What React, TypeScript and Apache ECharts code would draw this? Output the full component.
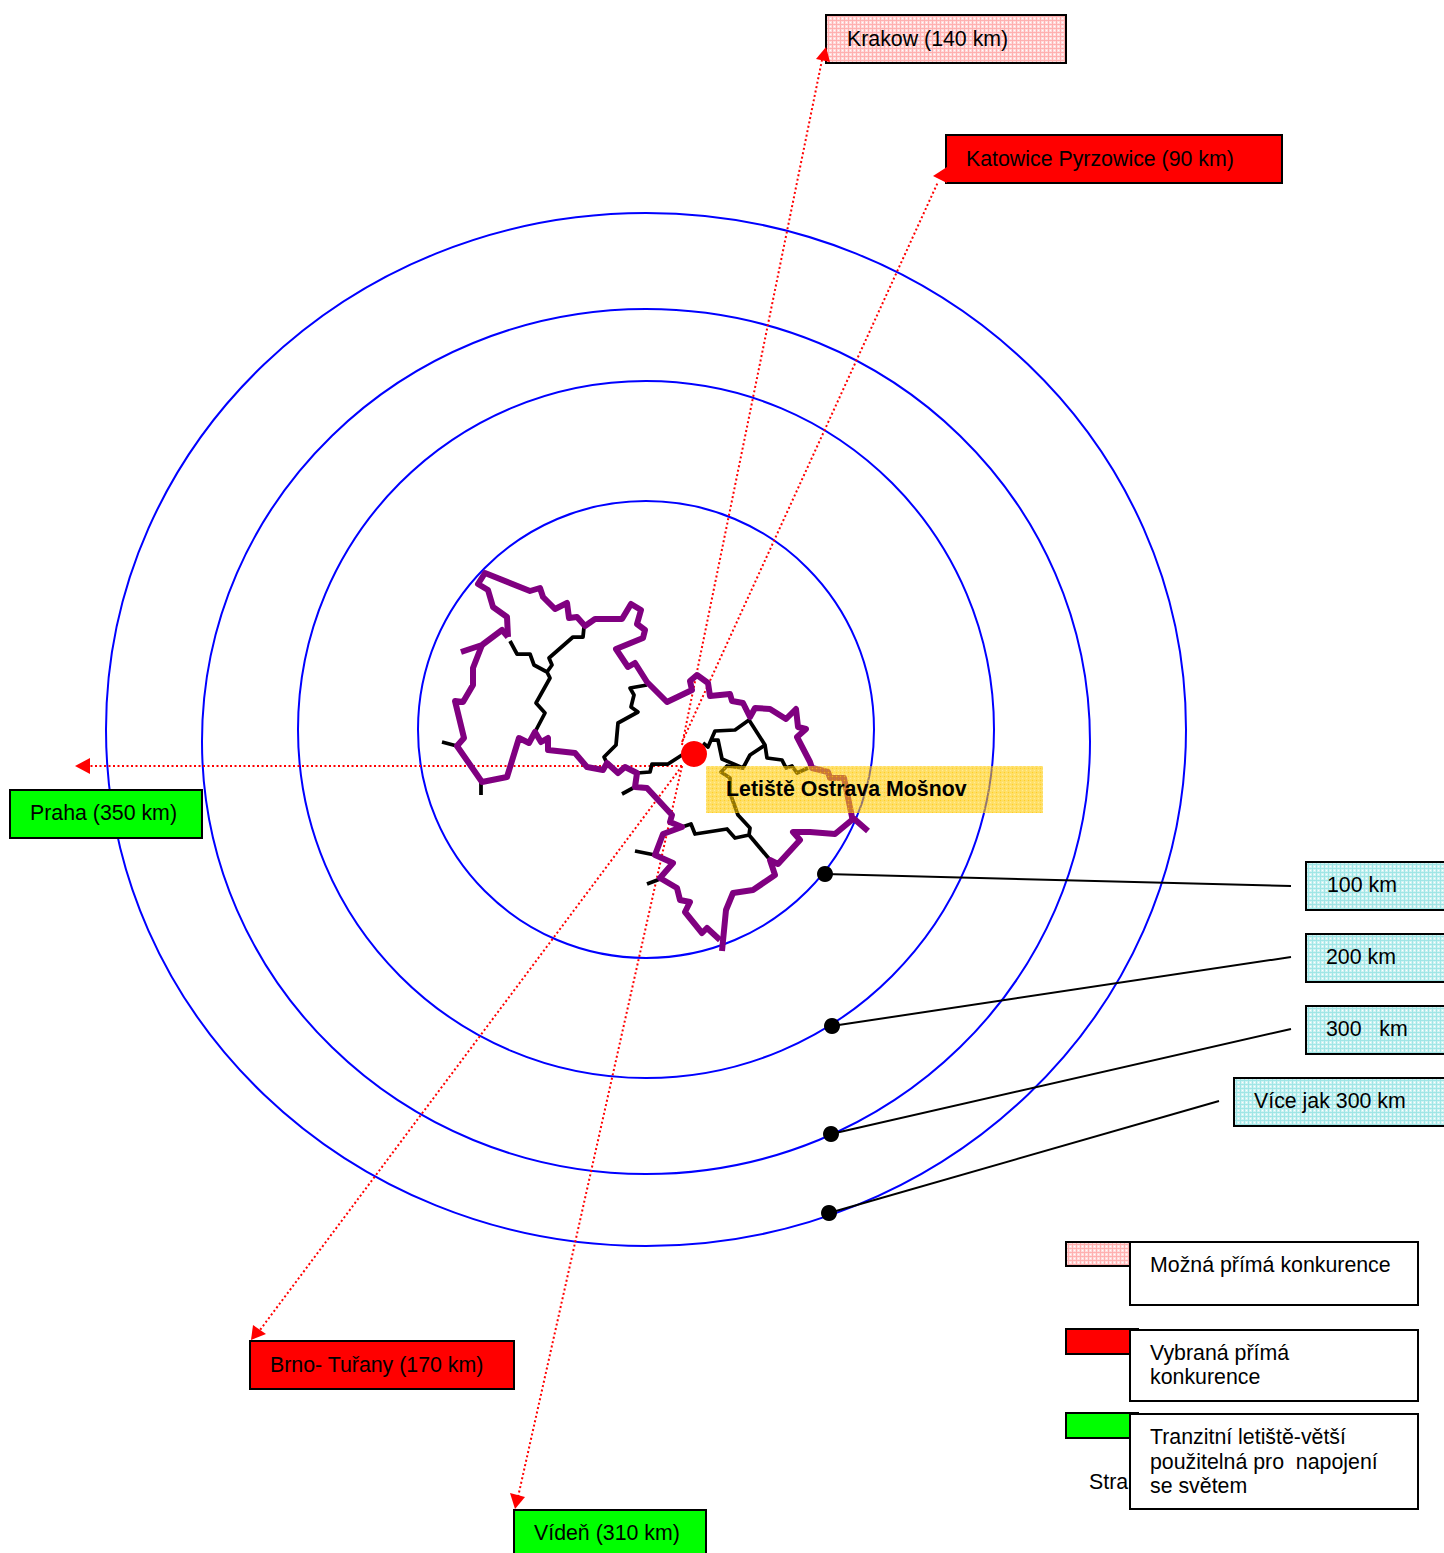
import React, { useEffect, useRef } from "react";
import * as echarts from "echarts";

const WIDTH = 1444;
const HEIGHT = 1553;

// Distance rings: [centre x, centre y, radius x, radius y]
const rings = [
  [646, 729.5, 228, 228.5],
  [646, 729.5, 348, 348.5],
  [646, 741.5, 444, 432.5],
  [646, 729.5, 540, 516.5],
];

// Dotted routes from the airport
const routeKrakow = [[682, 745], [822, 60]];
const routeKatowice = [[682, 742], [938, 182]];
const routePraha = [[682, 766], [88, 766]];
const routeBrno = [[682, 766], [260, 1330]];
const routeViden = [[682, 766], [518, 1497]];

const arrowheads = [
  [[826, 47], [816, 59], [830, 62]],
  [[933, 176], [947, 167], [947, 183]],
  [[75, 766], [90, 758], [90, 774]],
  [[251, 1340], [253, 1325], [266, 1334]],
  [[515, 1509], [510, 1493], [525, 1497]],
];

// Regional borders (black)
const inner1 = [[510, 641], [517, 654], [530, 654], [534, 665], [547, 672], [550, 678], [536, 703], [545, 713], [535, 732]];
const inner2 = [[584, 627], [583, 637], [573, 637], [549, 658], [552, 665], [547, 672]];
const inner3 = [[647, 685], [630, 688], [634, 695], [631, 707], [638, 712], [618, 723], [616, 745], [604, 757], [607, 763]];
const inner4 = [[637, 773], [650, 772], [652, 764], [668, 764], [682, 755]];
const inner5 = [[703, 743], [708, 747], [715, 731], [735, 730], [749, 720], [765, 745], [767, 758], [782, 760], [786, 768], [792, 766], [797, 773], [808, 768]];
const inner6 = [[765, 745], [750, 755], [743, 768], [722, 759], [718, 740], [710, 740]];
const inner7 = [[743, 768], [727, 766], [721, 772], [730, 778], [730, 793], [738, 815], [750, 828], [749, 835], [735, 838], [727, 829], [695, 834], [691, 824], [682, 827]];
const inner8 = [[749, 835], [771, 861]];
const tick1 = [[442, 742], [457, 746]];
const tick2 = [[481, 783], [481, 795]];
const tick3 = [[622, 794], [633, 788]];
const tick4 = [[635, 851], [655, 855]];
const tick5 = [[647, 884], [660, 879]];

// National border (purple)
const border1 = [
  [508, 637], [507, 617], [493, 607], [488, 590], [478, 584], [485, 573], [530, 591], [540, 588], [543, 597], [555, 609],
  [567, 603], [569, 618], [577, 617], [585, 626], [595, 619], [622, 619], [631, 604], [641, 610], [637, 624], [645, 630],
  [643, 638], [616, 649], [628, 667], [635, 663], [647, 682], [667, 702], [692, 690], [690, 681], [697, 675], [708, 683],
  [710, 696], [730, 694], [732, 701], [743, 703], [750, 717], [755, 708], [770, 709], [786, 719], [796, 709], [798, 727],
  [806, 729], [797, 737], [810, 762], [812, 768], [828, 772], [830, 778], [844, 778], [852, 817], [868, 831],
];
const border2 = [
  [508, 637], [502, 630], [482, 645], [461, 652],
];
const border3 = [
  [482, 645], [473, 668], [473, 685], [463, 702], [455, 701], [464, 738], [457, 746], [482, 782], [507, 777], [519, 738],
  [529, 743], [535, 732], [541, 742], [548, 738], [548, 750], [575, 753], [587, 767], [603, 770], [607, 763], [618, 773],
  [625, 767], [637, 773], [635, 787], [647, 788], [672, 815], [670, 822], [682, 827], [663, 834], [655, 855], [673, 863],
  [660, 878], [677, 888], [680, 900], [690, 902], [685, 912], [702, 933], [707, 928], [720, 940],
];
const border4 = [
  [722, 951], [726, 910], [733, 893], [753, 890], [775, 875], [770, 860], [778, 864], [800, 840], [793, 832], [810, 832], [835, 834], [853, 819],
];

// Leader lines and their ring markers
const leader100 = [[825, 874], [1291, 886]];
const leader200 = [[832, 1026], [1291, 957]];
const leader300 = [[831, 1134], [1291, 1029]];
const leaderMore = [[829, 1213], [1219, 1101]];
const airport = [[694, 754]];
const ringMarkers = [[825, 874], [832, 1026], [831, 1134], [829, 1213]];

// Boxes: [left, top, right, bottom]
const boxCoords = [
  [826, 15, 1066, 63], [946, 135, 1282, 183], [10, 790, 202, 838], [250, 1341, 514, 1389], [514, 1510, 706, 1560],
  [1306, 862, 1450, 910], [1306, 934, 1450, 982], [1306, 1006, 1450, 1054], [1234, 1078, 1450, 1126],
  [1066, 1242, 1130, 1266], [1066, 1329, 1138, 1354], [1066, 1413, 1138, 1438],
];
const boxFills = ["pink", "red", "green", "red", "green", "blue", "blue", "blue", "blue", "pink", "red", "green"];
const legendBoxes = [[1130, 1242, 1418, 1305], [1130, 1330, 1418, 1401], [1130, 1414, 1418, 1509]];
const airportBand = [[706, 766, 1043, 813]];

// Labels
const labelTexts = [
  "Krakow (140 km)", "Katowice Pyrzowice (90 km)", "Praha (350 km)", "Brno- Tuřany (170 km)", "Vídeň (310 km)",
  "100 km", "200 km", "300   km", "Více jak 300 km",
  "Možná přímá konkurence", "Vybraná přímá", "konkurence", "Tranzitní letiště-větší", "použitelná pro  napojení", "se světem",
];
const labelPoints = [
  [847, 39], [966, 159], [30, 813], [270, 1365], [534, 1533],
  [1327, 885], [1326, 957], [1326, 1029], [1254, 1101],
  [1150, 1265], [1150, 1353], [1150, 1377], [1150, 1437], [1150, 1462], [1150, 1486],
];
const hiddenLabel = "Stra";
const hiddenLabelPoint = [[1089, 1482]];
const airportLabel = "Letiště Ostrava Mošnov";
const airportLabelPoint = [[726, 789]];

const FONT = '21.33px "Liberation Sans", Arial, sans-serif';
const BOLD = 'bold 21.33px "Liberation Sans", Arial, sans-serif';

function tile(base: string, line: string, hole: string) {
  const c = document.createElement("canvas");
  c.width = 4;
  c.height = 4;
  const g = c.getContext("2d")!;
  g.clearRect(0, 0, 4, 4);
  g.fillStyle = base;
  g.fillRect(0, 0, 4, 4);
  g.clearRect(0, 0, 4, 1);
  g.clearRect(0, 0, 1, 4);
  g.fillStyle = line;
  g.fillRect(0, 0, 4, 1);
  g.fillRect(0, 0, 1, 4);
  g.clearRect(2, 2, 1, 1);
  g.fillStyle = hole;
  g.fillRect(2, 2, 1, 1);
  return { image: c.toDataURL(), repeat: "repeat", imageWidth: 4, imageHeight: 4 };
}

const line = (data: number[][], color: string, width: number, type: any = "solid") => ({
  type: "line",
  data,
  symbol: "none",
  silent: true,
  clip: false,
  lineStyle: { color, width, type, join: "round", cap: "butt" },
});

const rectFrom = (api: any, b: number[]) => {
  const a = api.coord([b[0], b[1]]);
  const c = api.coord([b[2], b[3]]);
  return { x: a[0], y: a[1], width: c[0] - a[0], height: c[1] - a[1] };
};

export default function App() {
  const ref = useRef<HTMLDivElement>(null);
  useEffect(() => {
    document.body.style.margin = "0";
    const chart = echarts.init(ref.current!, undefined, { renderer: "svg" });
    const fills: Record<string, any> = {
      pink: tile("#ffdcdc", "#ffb0b0", "#ffffff"),
      blue: tile("#d0f3f3", "#a0e6e6", "#ffffff"),
      red: "#ff0000",
      green: "#00ff00",
    };
    const yellow = tile("rgba(255,202,0,0.58)", "rgba(255,200,0,0.62)", "rgba(255,220,60,0.52)");

    const series: any[] = [
      {
        type: "custom",
        silent: true,
        clip: false,
        data: rings.map((r) => [r[0], r[1]]),
        encode: { x: 0, y: 1 },
        renderItem: (p: any, api: any) => {
          const r = rings[p.dataIndex];
          const c = api.coord([r[0], r[1]]);
          const s = api.size([r[2], r[3]]);
          return {
            type: "ellipse",
            shape: { cx: c[0], cy: c[1], rx: s[0], ry: s[1] },
            style: { fill: "none", stroke: "#0000ff", lineWidth: 2 },
          };
        },
      },
      line(routeKrakow, "#ff0000", 2, [2, 2.5]),
      line(routeKatowice, "#ff0000", 2, [2, 2.5]),
      line(routePraha, "#ff0000", 2, [2, 2.5]),
      line(routeBrno, "#ff0000", 2, [2, 2.5]),
      line(routeViden, "#ff0000", 2, [2, 2.5]),
      ...[inner1, inner2, inner3, inner4, inner5, inner6, inner7, inner8, tick1, tick2, tick3, tick4, tick5].map((d) =>
        line(d, "#000000", 3.75)
      ),
      ...[border1, border2, border3, border4].map((d) => line(d, "#800080", 6)),
      ...[leader100, leader200, leader300, leaderMore].map((d) => line(d, "#000000", 2)),
      {
        type: "scatter",
        silent: true,
        clip: false,
        data: ringMarkers,
        symbol: "circle",
        symbolSize: 16,
        itemStyle: { color: "#000000", opacity: 1 },
      },
      {
        type: "scatter",
        silent: true,
        clip: false,
        data: airport,
        symbol: "circle",
        symbolSize: 26,
        itemStyle: { color: "#ff0000", opacity: 1 },
      },
      {
        type: "custom",
        silent: true,
        clip: false,
        data: hiddenLabelPoint,
        encode: { x: 0, y: 1 },
        renderItem: (_p: any, api: any) => {
          const c = api.coord(hiddenLabelPoint[0]);
          return {
            type: "text",
            x: c[0],
            y: c[1],
            style: { text: hiddenLabel, font: FONT, fill: "#000000", align: "left", verticalAlign: "middle" },
          };
        },
      },
      {
        type: "custom",
        silent: true,
        clip: false,
        data: boxCoords.map((b) => [b[0], b[1]]),
        encode: { x: 0, y: 1 },
        renderItem: (p: any, api: any) => ({
          type: "rect",
          shape: rectFrom(api, boxCoords[p.dataIndex]),
          style: { fill: fills[boxFills[p.dataIndex]], stroke: "#000000", lineWidth: 2 },
        }),
      },
      {
        type: "custom",
        silent: true,
        clip: false,
        data: arrowheads.map((t) => t[0]),
        encode: { x: 0, y: 1 },
        renderItem: (p: any, api: any) => ({
          type: "polygon",
          shape: { points: arrowheads[p.dataIndex].map((q) => api.coord(q)) },
          style: { fill: "#ff0000" },
        }),
      },
      {
        type: "custom",
        silent: true,
        clip: false,
        data: legendBoxes.map((b) => [b[0], b[1]]),
        encode: { x: 0, y: 1 },
        renderItem: (p: any, api: any) => ({
          type: "rect",
          shape: rectFrom(api, legendBoxes[p.dataIndex]),
          style: { fill: "#ffffff", stroke: "#000000", lineWidth: 2 },
        }),
      },
      {
        type: "custom",
        silent: true,
        clip: false,
        data: airportBand.map((b) => [b[0], b[1]]),
        encode: { x: 0, y: 1 },
        renderItem: (p: any, api: any) => ({
          type: "rect",
          shape: rectFrom(api, airportBand[p.dataIndex]),
          style: { fill: yellow },
        }),
      },
      {
        type: "custom",
        silent: true,
        clip: false,
        data: airportLabelPoint,
        encode: { x: 0, y: 1 },
        renderItem: (_p: any, api: any) => {
          const c = api.coord(airportLabelPoint[0]);
          return {
            type: "text",
            x: c[0],
            y: c[1],
            style: { text: airportLabel, font: BOLD, fill: "#000000", align: "left", verticalAlign: "middle" },
          };
        },
      },
      {
        type: "custom",
        silent: true,
        clip: false,
        data: labelPoints,
        encode: { x: 0, y: 1 },
        renderItem: (p: any, api: any) => {
          const c = api.coord(labelPoints[p.dataIndex]);
          return {
            type: "text",
            x: c[0],
            y: c[1],
            style: { text: labelTexts[p.dataIndex], font: FONT, fill: "#000000", align: "left", verticalAlign: "middle" },
          };
        },
      },
    ];
    // Paint in listed order: line series would otherwise float above custom marks.
    series.forEach((s, i) => {
      s.z = i + 2;
    });

    chart.setOption({
      animation: false,
      backgroundColor: "#ffffff",
      grid: { left: 0, right: 0, top: 0, bottom: 0 },
      xAxis: { type: "value", min: 0, max: WIDTH, show: false },
      yAxis: { type: "value", min: 0, max: HEIGHT, inverse: true, show: false },
      series,
    });
    return () => chart.dispose();
  }, []);
  return <div ref={ref} style={{ width: WIDTH, height: HEIGHT }} />;
}
